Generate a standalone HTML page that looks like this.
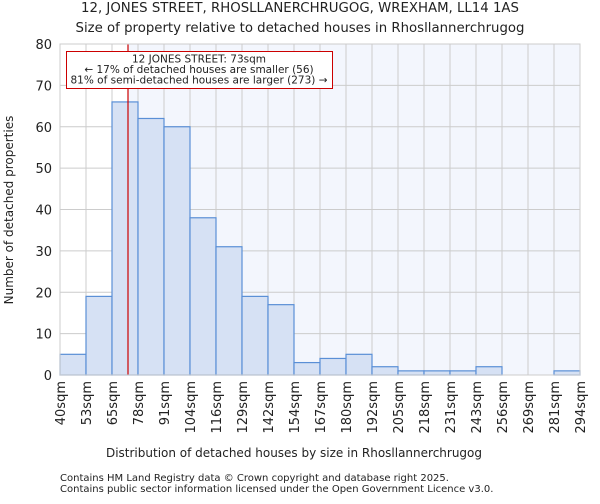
<!DOCTYPE html>
<html><head><meta charset="utf-8"><style>
body{margin:0;background:#fff;font-family:"DejaVu Sans","Liberation Sans",sans-serif;}
svg text{font-family:"DejaVu Sans","Liberation Sans",sans-serif;fill:#222;}
</style></head><body>
<svg id="c" width="600" height="500" viewBox="0 0 600 500">
<text x="300" y="12" text-anchor="middle" font-size="13.3">12, JONES STREET, RHOSLLANERCHRUGOG, WREXHAM, LL14 1AS</text>
<text x="300" y="32" text-anchor="middle" font-size="13.3">Size of property relative to detached houses in Rhosllannerchrugog</text>
<g id="plot"></g>
<text x="294" y="457" text-anchor="middle" font-size="12">Distribution of detached houses by size in Rhosllannerchrugog</text>
<text transform="translate(13,210) rotate(-90)" text-anchor="middle" font-size="12">Number of detached properties</text>
<text x="60" y="481" font-size="10" fill="#444">Contains HM Land Registry data © Crown copyright and database right 2025.</text>
<text x="60" y="492" font-size="10" fill="#444">Contains public sector information licensed under the Open Government Licence v3.0.</text>
</svg>
<script>
const categories=["40sqm","53sqm","65sqm","78sqm","91sqm","104sqm","116sqm","129sqm","142sqm","154sqm","167sqm","180sqm","192sqm","205sqm","218sqm","231sqm","243sqm","256sqm","269sqm","281sqm","294sqm"];
const binEdges=[40,53,65,78,91,104,116,129,142,154,167,180,192,205,218,231,243,256,269,281,294];
const counts=[5,19,66,62,60,38,31,19,17,3,4,5,2,1,1,1,2,0,0,1];
const yTicks=[0,10,20,30,40,50,60,70,80];
const propertySize=73;
const ns="http://www.w3.org/2000/svg";
const L=60,R=580,T=44,B=375,n=counts.length,bw=(R-L)/n;
const y=v=>B-(v/80)*(B-T);
const xi=i=>L+i*bw;
function xv(v){let i=0;while(i<binEdges.length-2&&v>binEdges[i+1])i++;return xi(i)+(v-binEdges[i])/(binEdges[i+1]-binEdges[i])*bw;}
const g=document.getElementById("plot");
function mk(t,a){const e=document.createElementNS(ns,t);for(const k in a)e.setAttribute(k,a[k]);g.appendChild(e);return e;}
const rx=xv(propertySize);
let e=mk("rect",{x:L,y:T,width:rx-L,height:B-T,fill:"#ffffff"});


e=mk("rect",{x:rx,y:T,width:R-rx,height:B-T,fill:"#f3f6fd"});


for(let i=0;i<=n;i++){e=mk("line",{x1:xi(i),x2:xi(i),y1:T,y2:B,stroke:"#cccccc","stroke-width":1});

}
yTicks.forEach(v=>{e=mk("line",{x1:L,x2:R,y1:y(v),y2:y(v),stroke:"#cccccc","stroke-width":1});


const t=mk("text",{x:L-8,y:y(v)+5,"text-anchor":"end","font-size":"13"});t.textContent=v;

});
counts.forEach((c,i)=>{if(c<=0)return;const r=mk("rect",{x:xi(i),y:y(c),width:bw,height:B-y(c),fill:"#d6e1f4",stroke:"#5a8fd6","stroke-width":1.2});

});
categories.forEach((c,i)=>{const t=mk("text",{transform:`translate(${xi(i)+5},${B+6}) rotate(-90)`,"text-anchor":"end","font-size":"13"});t.textContent=c;

});
e=mk("line",{x1:rx,x2:rx,y1:T,y2:B,stroke:"#cc0000","stroke-width":1.2});


e=mk("rect",{x:66.5,y:51.5,width:266,height:37,fill:"#fff",stroke:"#cc0000","stroke-width":1});


["12 JONES STREET: 73sqm","← 17% of detached houses are smaller (56)","81% of semi-detached houses are larger (273) →"].forEach((s,k)=>{const t=mk("text",{x:199,y:62.5+k*10.5,"text-anchor":"middle","font-size":"10.5"});t.textContent=s;

});
e=mk("rect",{x:L,y:T,width:R-L,height:B-T,fill:"none",stroke:"#cccccc","stroke-width":1});


</script>
</body></html>
